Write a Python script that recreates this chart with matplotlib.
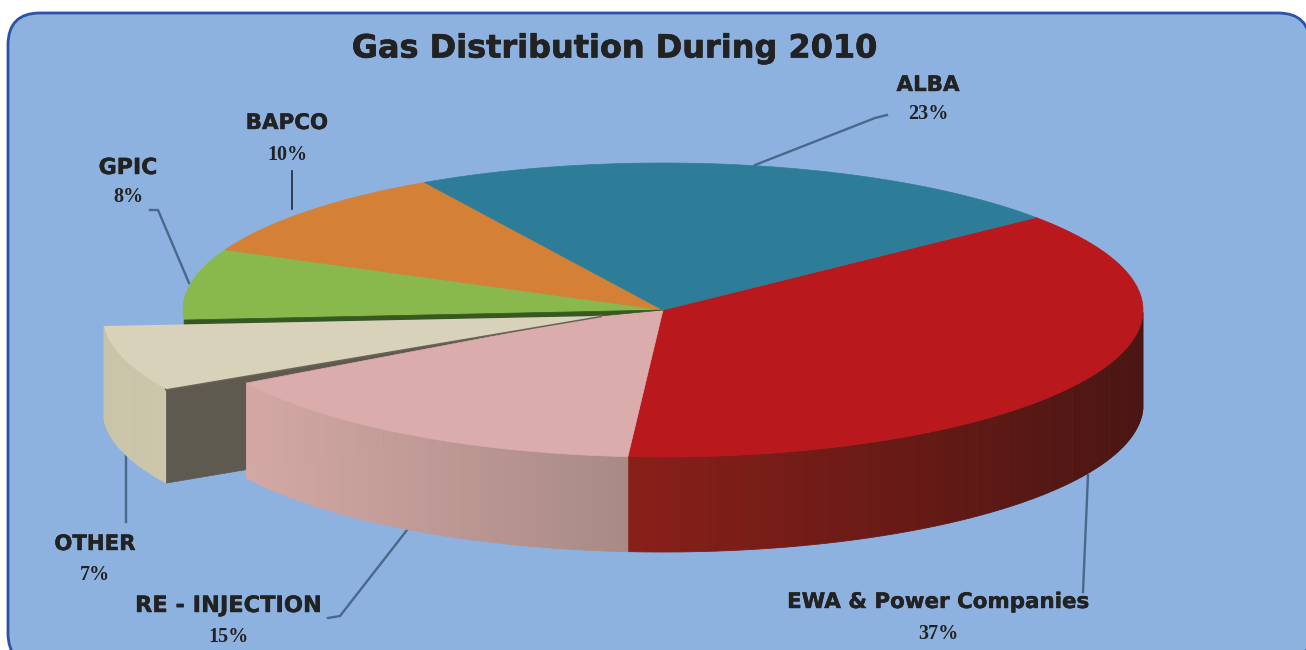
import numpy as np
import matplotlib
matplotlib.use("Agg")
import matplotlib.pyplot as plt
import matplotlib.patheffects as pe
from matplotlib.patches import FancyBboxPatch, Polygon

# clockwise from the right side of the pie
names = ["EWA & Power Companies", "RE - INJECTION", "OTHER", "GPIC", "BAPCO", "ALBA"]
shares = [37, 15, 7, 8, 10, 23]
top_colors = ["#b9181c", "#daacac", "#d8d2ba", "#89b84c", "#d58037", "#2e7d98"]

START = 39  # degrees
CX, CY, RX, RY = 663, 310, 480, 147
DEPTH = 95
BG = "#8db2e0"
INK = "#222222"
LEADER = "#46698c"
# the perspective in the original moves slice edges a little
NUDGE = [0, -2, -2.7, -2, -2, 0]


def ell(t, dx=0, dy=0):
    t = np.radians(t)
    return CX + RX * np.cos(t) + dx, CY - RY * np.sin(t) + dy


def arc(t1, t2, dx=0, dy=0):
    ts = np.linspace(t1, t2, 120)
    x, y = ell(ts, dx, dy)
    return np.column_stack([x, y])


def shaded_wall(ax, t1, t2, c_left, c_right, z, dx=0, dy=0, depth=DEPTH):
    # thin strips, colour follows the x position
    c_left = np.array(matplotlib.colors.to_rgb(c_left))
    c_right = np.array(matplotlib.colors.to_rgb(c_right))
    ts = np.linspace(t1, t2, 90)
    xs = ell(ts)[0]
    for i in range(len(ts) - 1):
        top = arc(ts[i], ts[i + 1], dx, dy)[[0, -1]]
        pts = np.vstack([top, top[::-1] + [0, depth]])
        f = (xs[i] - xs.min()) / (xs.max() - xs.min())
        col = c_left + (c_right - c_left) * f
        ax.add_patch(Polygon(pts, closed=True, fc=col, ec=col, lw=0.6, zorder=z))


def heavy(width):
    return [pe.withStroke(linewidth=width, foreground=INK)]


fig = plt.figure(figsize=(13.06, 6.5), dpi=100, facecolor="white")
ax = fig.add_axes([0, 0, 1, 1])
ax.set_xlim(0, 1306)
ax.set_ylim(650, 0)
ax.axis("off")

ax.add_patch(FancyBboxPatch((8 + 32, 13 + 32), 1302 - 64, 652 - 64,
                            boxstyle="round,pad=32,rounding_size=32",
                            fc=BG, ec="#2a52a5", lw=2, zorder=1))

# slice angles from the shares
ends = START - np.cumsum(shares) * 3.6 + np.array(NUDGE)
starts = np.r_[START, ends[:-1]]

# exploded OTHER slice
o1, o2 = starts[2], ends[2]
ox, oy = -80, 6
apex = np.array([600, 316])
shaded_wall(ax, o1, o2, "#c9c4a8", "#cdc7ab", 3, ox, oy, depth=94)
corner = np.array(ell(o1, ox, oy))
ax.add_patch(Polygon([corner, apex, apex + [0, 94], corner + [0, 94]], closed=True,
                     fc="#5f5a50", ec="#5f5a50", lw=0.5, zorder=3))

# side walls of the big slices
shaded_wall(ax, -1, ends[0], "#8a1f19", "#4a1613", 4)
shaded_wall(ax, starts[1], ends[1], "#d4a8a5", "#a98a85", 4)

# tops
for i in [0, 1, 3, 4, 5]:
    pts = np.vstack([[CX, CY], arc(starts[i], ends[i])])
    if i == 1:
        pts = np.vstack([pts, apex])
    ax.add_patch(Polygon(pts, closed=True, fc=top_colors[i], ec=top_colors[i], lw=0.5, zorder=5))

# dark rim under the green slice
gx, gy = ell(ends[2])
ax.add_patch(Polygon([[gx, gy], [gx, gy + 5], apex, [CX, CY]], closed=True,
                     fc="#37591f", ec="#37591f", lw=0.5, zorder=6))

pts = np.vstack([[apex], arc(o1, o2, ox, oy)])
ax.add_patch(Polygon(pts, closed=True, fc=top_colors[2], ec="none", zorder=7))
ax.plot([corner[0], apex[0]], [corner[1], apex[1]], color="#6b6256", lw=2.2, zorder=6.5)

# leader lines
leaders = [
    ([755, 875, 887], [165, 118, 115]),
    ([292, 292], [171, 209]),
    ([150, 158, 189], [210, 210, 283]),
    ([126, 126], [455, 522]),
    ([407, 340, 328], [530, 616, 618]),
    ([1088, 1083], [475, 592]),
]
for lx, ly in leaders:
    thin = lx[0] == 292
    ax.plot(lx, ly, color="#1c2a3a" if thin else LEADER, lw=1.2 if thin else 1.7, zorder=2)

ax.text(615, 49, "Gas Distribution During 2010", ha="center", va="center",
        fontsize=23, fontweight="bold", color=INK, family="DejaVu Sans", zorder=10,
        path_effects=heavy(0.5))

label_pos = {
    "EWA & Power Companies": (938, 602, 634, 15.4),
    "RE - INJECTION": (229, 606, 637, 16.2),
    "OTHER": (95, 544, 575, 15.3),
    "GPIC": (128, 168, 197, 15.9),
    "BAPCO": (287, 123, 155, 15.4),
    "ALBA": (928, 85, 114, 15.4),
}
for name, share in zip(names, shares):
    x, y1, y2, size = label_pos[name]
    ax.text(x, y1, name, ha="center", va="center", fontsize=size, fontweight="bold",
            color=INK, family="DejaVu Sans", zorder=10, path_effects=heavy(0.3))
    ax.text(x, y2, f"{share}%", ha="center", va="center", fontsize=14.5, fontweight="bold",
            color=INK, family="Liberation Serif", zorder=10)

fig.savefig("out.png", dpi=100)
